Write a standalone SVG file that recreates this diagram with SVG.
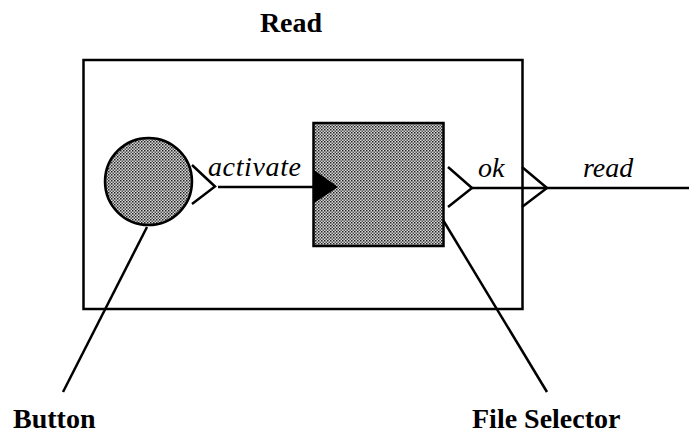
<svg xmlns="http://www.w3.org/2000/svg" width="689" height="435" viewBox="0 0 689 435">
<style>
.ln{fill:none;stroke:#000;stroke-width:2.5;stroke-linejoin:miter}
.lbl{font-family:"Liberation Serif",serif;font-size:28px;font-weight:bold;fill:#000}
.it{font-family:"Liberation Serif",serif;font-size:28px;font-style:italic;fill:#000}
</style>
<defs>
<pattern id="dots" width="3" height="3" patternUnits="userSpaceOnUse">
<rect width="3" height="3" fill="#d8d8d8"/>
<rect x="0" y="0" width="1.5" height="1.5" fill="#222"/>
<rect x="1.5" y="1.5" width="1.5" height="1.5" fill="#555"/>
</pattern>
</defs>
<rect width="689" height="435" fill="#fff"/>
<g id="read">
<rect x="83.5" y="60" width="439" height="249" class="ln"/>
<text x="291" y="32" text-anchor="middle" class="lbl">Read</text>
</g>
<g id="button">
<circle cx="148.5" cy="181.5" r="43.5" fill="url(#dots)" stroke="#000" stroke-width="2.5"/>
<polyline points="192,165 215,186.5 192,204" class="ln"/>
</g>
<g id="file-selector">
<rect x="313.5" y="123" width="130" height="123" fill="url(#dots)" stroke="#000" stroke-width="2.5"/>
<polygon points="314,170 338,187 314,203" fill="#000"/>
<polyline points="448,167 472,188 448,207" class="ln"/>
</g>
<g id="read-port">
<polyline points="522,167 547,188 522,207" class="ln"/>
</g>
<g id="connectors">
<line x1="218" y1="187" x2="313" y2="187" class="ln"/>
<line x1="472" y1="188" x2="689" y2="188" class="ln"/>
<line x1="147" y1="227" x2="63" y2="392" class="ln"/>
<line x1="443" y1="220" x2="547" y2="392" class="ln"/>
</g>
<g id="labels">
<text x="208" y="176" class="it" textLength="93">activate</text>
<text x="478" y="177" class="it">ok</text>
<text x="583" y="177" class="it">read</text>
<text x="13" y="428" class="lbl">Button</text>
<text x="472" y="428" class="lbl">File Selector</text>
</g>
</svg>
